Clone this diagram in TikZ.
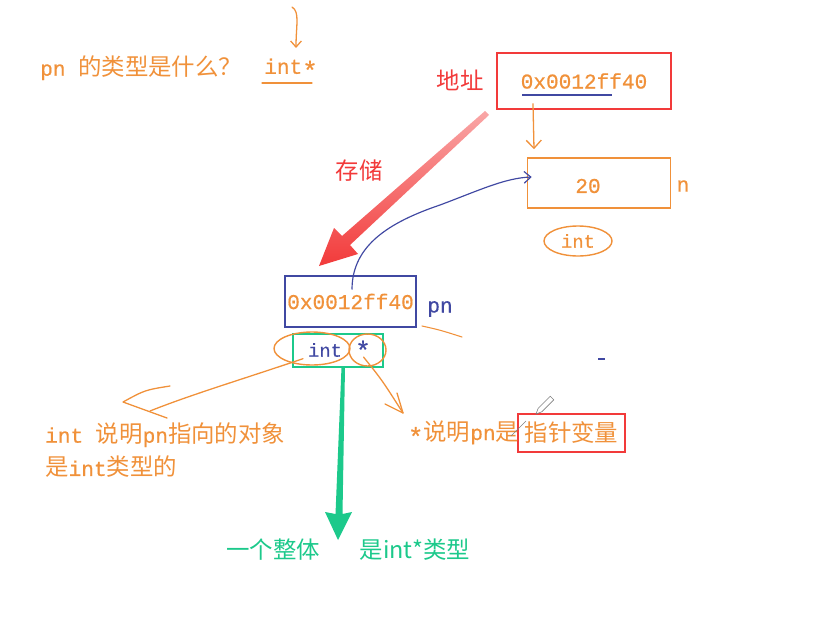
\documentclass[tikz,border=0pt]{standalone}
\usepackage{fontspec}
\setmonofont{Liberation Mono}[FakeBold=0.6]
\newfontfamily\zhfont{Noto Sans CJK SC}
\usetikzlibrary{arrows.meta,positioning,calc,shapes.geometric}
\definecolor{orng}{HTML}{F0913A}
\definecolor{redc}{HTML}{F23A3A}
\definecolor{blu}{HTML}{4048A2}
\definecolor{grn}{HTML}{1CC98B}
\newcommand\zh[1]{{\zhfont\fontsize{20}{24}\selectfont #1}}
\newcommand\bstar{{\fontsize{22}{24}\selectfont\raisebox{-0.22em}{*}}}

\begin{document}
\begin{tikzpicture}[x=0.03cm,y=-0.03cm,
    mono/.style={font=\ttfamily\fontsize{18}{22}\selectfont,inner sep=0pt},
    smallmono/.style={font=\ttfamily\fontsize{16}{20}\selectfont,inner sep=0pt},
    ortext/.style={mono,text=orng},
    box/.style={draw,line width=1.4pt,inner sep=0pt},
    oval/.style={ellipse,draw=orng,line width=1.2pt,inner sep=0pt},
    hand/.style={orng,line width=1.1pt,line cap=round,line join=round},
    zhtext/.style={font=\zhfont\fontsize{20}{24}\selectfont,inner sep=0pt},
    barb/.style={-{Straight Barb[length=1.8mm,width=3.2mm]}}]
  \useasboundingbox (0,0) rectangle (817,642);

  \node[ortext,anchor=west] (q) at (40,68) {pn \zh{的类型是什么？}};
  \node[ortext] (qans) at (291,69) {int\bstar};
  \draw[hand] (262,83) -- (312,83);
  \coordinate (qtop) at (292,7);
  \coordinate (qtip) at (296,48);
  \draw[hand,barb] (qtop) .. controls (300,12) and (296,25) .. (qtip);

  \node[box,draw=redc,ortext,minimum width=5.22cm,minimum height=1.68cm] (addr) at (584,81) {0x0012ff40};
  \draw[blu,line width=1pt] (522,95) -- (612,95);
  \node[zhtext,text=redc] (addrlbl) at (460,80) {地址};
  \node[zhtext,text=redc] (store) at (359,171) {存储};

  \node[box,draw=orng,minimum width=4.29cm,minimum height=1.5cm] (nbox) at (599,183) {};
  \node[ortext] (nval) at (588,186) {20};
  \node[ortext] (nname) at (683,186) {n};
  \node[oval,smallmono,text=orng,minimum width=2.04cm,minimum height=0.9cm] (ntype) at (578,241) {int};
  \draw[hand,-{Straight Barb[length=2.4mm,width=4.5mm]}] ($(addr.south)+(-51,-6)$) -- ($(nbox.north)+(-65,-8)$);

  \shade[top color=redc!45,middle color=redc,bottom color=redc]
    (485,111) -- (489,115) -- (350,245) -- (358,254) -- (319,266) -- (334,228) -- (342,236) -- cycle;

  \node[box,draw=blu,ortext,minimum width=3.93cm,minimum height=1.53cm] (pbox) at (350.5,301.5) {0x0012ff40};
  \node[mono,text=blu] (pname) at (440,309) {pn};
  \draw[blu,line width=1pt,-{Straight Barb[length=2mm,width=3.5mm]}] ($(pbox.center)+(1.5,-12)$)
    .. controls (352,245) and (390,222) .. (440,205)
    .. controls (480,190) and (505,178) .. ($(nbox.west)+(5,-6)$);
  \draw[hand,line width=0.9pt] (422,326) .. controls (440,330) .. (462,337);

  \node[box,draw=grn,line width=1.2pt,minimum width=2.7cm,minimum height=0.99cm] (tbox) at (338,350.5) {};
  \node[smallmono,text=blu] (tint) at (325,350) {int};
  \node[smallmono,text=blu] (tstar) at (363,350) {\bstar};
  \node[oval,minimum width=2.28cm,minimum height=0.99cm] (intoval) at (312,348.5) {};
  \node[oval,minimum width=1.11cm,minimum height=0.96cm] (staroval) at (367.5,350) {};

  \coordinate (itip) at (123,402);
  \draw[hand] ($(intoval.south)+(-9,-7)$) .. controls (240,380) and (190,395) .. (150,411);
  \draw[hand] (170,386) .. controls (145,390) .. (itip) -- (167,418);
  \coordinate (stip) at (403,413);
  \draw[hand] ($(staroval.center)+(-4,7)$) .. controls (382,380) .. (stip);
  \draw[hand] (397,393) -- (stip) -- (385,404);

  \node[ortext,anchor=west] (intnote) at (45,435) {int \zh{说明}pn\zh{指向的对象}};
  \node[ortext,anchor=west] (intnote2) at (45,467) {\zh{是}int\zh{类型的}};
  \node[box,draw=redc,line width=1.2pt,ortext,minimum width=3.21cm,minimum height=1.14cm] (ptr) at (571.5,433) {\zh{指针变量}};
  \node[ortext,anchor=east] (starnote) at ($(ptr.west)+(2,0)$) {\bstar\zh{说明}pn\zh{是}};

  \fill[grn] (341.5,367) -- (345,367) -- (342.5,514) -- (352,512) -- (338,540) -- (325,512) -- (335.5,514) -- cycle;
  \node[zhtext,text=grn] (whole) at (273,550) {一个整体};
  \node[zhtext,text=grn] (ptype) at (415,550) {是int*类型};

  \fill[blu] (598,357.5) rectangle (605,360);
  \draw[gray,line width=0.5pt] (536,414) -- (541.8,411.8) -- (553.8,399.8) -- (550.2,396.2) -- (538.2,408.2) -- cycle;
  \draw[gray,line width=0.5pt] (511,436) -- (526,421);
\end{tikzpicture}
\end{document}
